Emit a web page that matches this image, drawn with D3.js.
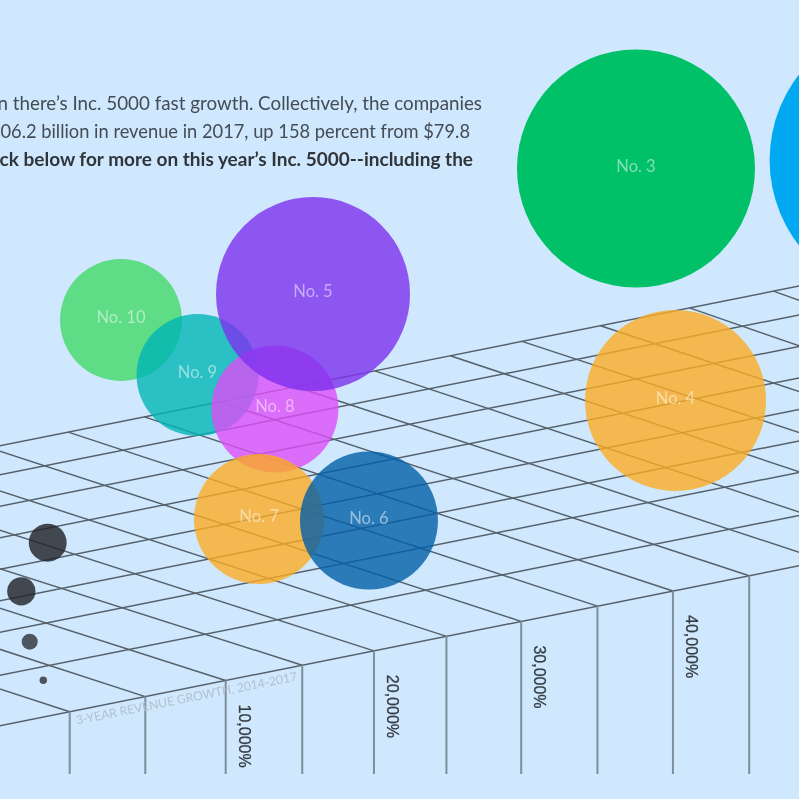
<!DOCTYPE html>
<html><head><meta charset="utf-8">
<script src="https://cdn.jsdelivr.net/npm/d3@7/dist/d3.min.js"></script>
<style>html,body{margin:0;padding:0;background:#cfe8fd;overflow:hidden}svg{display:block;filter:blur(0.75px)}</style>
</head><body><svg id="c" width="799" height="799"></svg>
<script>
const introLines = ["n there’s Inc. 5000 fast growth. Collectively, the companies","06.2 billion in revenue in 2017, up 158 percent from $79.8","ck below for more on this year’s Inc. 5000--including the"];
const bubbleLabels = ["","No. 3","No. 4","No. 5","No. 6","No. 7","No. 8","No. 9","No. 10","","","",""];
const bubbleGrowth = [55556,37503,40119,16113,19820,12537,13590,8464,3397,-1457,-3205,-2649,-1748];
const bubbleHeight = [640,631.5,399.5,506,279.5,281,391,425,480,257.3,208.7,158.3,119.7];
const bubbleRevenue = [1932,1416,819,941,476,423,403,372,372,36,20,6.4,1.4];
const bubbleColors = ["#00a9f2","#00c168","#fbab23","#7d31ed","#025fa7","#fbab23","#dc4df7","#00b5b5","#42d868","#222428","#222428","#222428","#222428"];
const bubbleOpacity = [1,1,.8,.8,.8,.8,.8,.8,.8,.82,.82,.75,.75];
const depthRows = [0,96,178,238,298,358,418,478,533];
const frontCols = [0,1.001,2.066,3.08,4.03,4.99,5.98,6.99,7.99,9,10,11,12,13,14,15,16,17];
const backCols = [0,1,2,3,4,5,6,7.04,8.05,9.05,10.05,11.1,12.1,13.05,14.09,15.27,16.38,17.4];
const verticalCount = 10;
const growthTicks = [10000,20000,30000,40000];
const tickColumn = [2,4,6,8];
const axisTitle = "3-YEAR REVENUE GROWTH, 2014-2017";
const introSizes = [18.8,18.3,19];
const introEnds = [482,470,473];

const svg = d3.select("#c");
const x0=69.7,y0=711.7,stepX=75.5,stepY=-15.1,depthSlope=0.325,backDepth=533;
const growth = d3.scaleLinear().domain([0,50000]).range([x0,x0+10*stepX]);
const height = d3.scaleLinear().domain([0,800]).range([800,0]);
const radius = d3.scaleSqrt().domain([0,1000]).range([0,100]);
const colX=d3.scaleLinear().domain([0,1]).range([x0,x0+stepX]);
const colY=d3.scaleLinear().domain([0,1]).range([y0,y0+stepY]);
const pt=(c,d)=>[colX(c)-d,colY(c)-d*depthSlope];
const line=d3.line();
const grid=svg.append("g").attr("fill","none").attr("stroke","#55606a").attr("stroke-width",1.45);
depthRows.forEach(d=>grid.append("path").attr("d",line([pt(-1,d),pt(19,d)])));
frontCols.forEach((c,i)=>grid.append("path").attr("d",line([pt(c,0),pt(backCols[i],backDepth)])));
svg.append("g").attr("stroke","#7f8e9b").attr("stroke-width",2).selectAll("line").data(frontCols.slice(0,verticalCount)).join("line")
 .attr("x1",c=>colX(c)).attr("x2",c=>colX(c)).attr("y1",c=>colY(c)).attr("y2",774);
const order=d3.range(bubbleLabels.length);
const drawOrder=order.slice(0,9).reverse().concat(order.slice(9));
const g=svg.append("g");
g.selectAll("circle").data(drawOrder).join("circle")
 .attr("cx",i=>growth(bubbleGrowth[i])).attr("cy",i=>height(bubbleHeight[i])).attr("r",i=>radius(bubbleRevenue[i]))
 .attr("fill",i=>bubbleColors[i]).attr("fill-opacity",i=>bubbleOpacity[i]);
g.selectAll("text").data(order.filter(i=>bubbleLabels[i])).join("text")
 .attr("x",i=>growth(bubbleGrowth[i])).attr("y",i=>height(bubbleHeight[i])+3)
 .attr("text-anchor","middle").attr("font-family","Lato").attr("font-size",16.5)
 .attr("fill","#fff").attr("fill-opacity",.5).text(i=>bubbleLabels[i]);
svg.append("g").selectAll("text").data(growthTicks).join("text")
 .attr("transform",(v,i)=>{const c=frontCols[tickColumn[i]];return `translate(${colX(c)+13},${colY(c)+24}) rotate(90)`;})
 .attr("font-family","Liberation Sans").attr("font-size",16).attr("fill","#343b42")
 .attr("stroke","#343b42").attr("stroke-width",.3)
 .text(v=>d3.format(",")(v)+"%");
svg.append("text").attr("transform","translate(77,724.5) rotate(-11.3)")
 .attr("font-family","Lato").attr("font-size",12.2).attr("fill","#b2c1ce").text(axisTitle);
svg.append("g").selectAll("text").data(introLines).join("text")
 .attr("x",(d,i)=>introEnds[i]).attr("y",(d,i)=>110+i*27.8).attr("text-anchor","end")
 .attr("font-family","Lato").attr("font-size",(d,i)=>introSizes[i]).attr("font-weight",(d,i)=>i==2?700:400)
 .attr("fill",(d,i)=>i==2?"#2f353b":"#444c55").text(d=>d);
</script></body></html>
